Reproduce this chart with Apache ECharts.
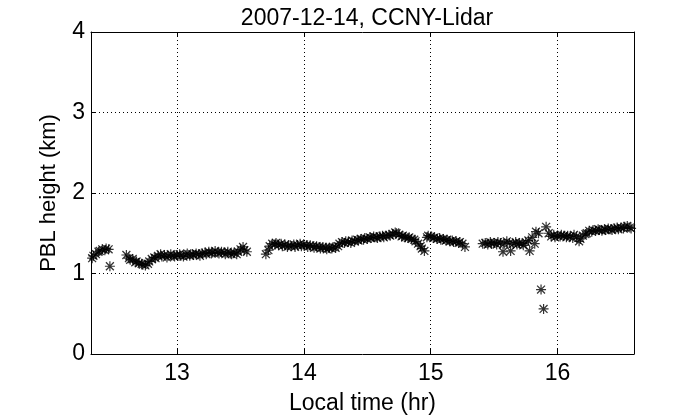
<!DOCTYPE html>
<html><head><meta charset="utf-8">
<script src="https://cdn.jsdelivr.net/npm/echarts@6/dist/echarts.min.js"></script>
<style>html,body{margin:0;padding:0;background:#fff}#c{width:700px;height:420px}</style>
</head><body><div id="c"></div>
<script>
const titleText = '2007-12-14, CCNY-Lidar';
const xName = 'Local time (hr)';
const yName = 'PBL height (km)';
const xTicks = [13, 14, 15, 16];
const yTicks = [0, 1, 2, 3, 4];
const xRange = [12.321, 16.603];
const yRange = [0, 4];

const times = [
12.33,12.34,12.36,12.38,12.39,12.41,12.43,12.44,12.46,12.47,
12.60,12.62,12.63,12.65,12.67,12.68,12.70,12.72,12.73,12.75,12.77,12.78,12.80,12.82,12.83,12.85,12.87,12.88,12.90,12.92,12.93,12.95,12.97,12.98,
13.00,13.02,13.03,13.05,13.07,13.08,13.10,13.12,13.13,13.15,13.17,13.18,13.20,13.22,13.23,13.25,13.27,13.28,13.30,13.32,13.33,13.35,13.37,13.38,13.40,13.42,13.43,13.45,13.47,13.48,13.50,13.52,13.53,13.55,
13.70,13.72,13.73,13.75,13.77,13.78,13.80,13.82,13.83,13.85,13.87,13.88,13.90,13.92,13.93,13.95,13.97,13.98,
14.00,14.02,14.03,14.05,14.07,14.08,14.10,14.12,14.13,14.15,14.17,14.18,14.20,14.22,14.23,14.25,14.27,14.28,14.30,14.32,14.33,14.35,14.37,14.38,14.40,14.42,14.43,14.45,14.47,14.48,14.50,14.52,14.53,14.55,14.57,14.58,14.60,14.62,14.63,14.65,14.67,14.68,14.70,14.72,14.73,14.75,14.77,14.78,14.80,14.82,14.83,14.85,14.87,14.88,14.90,14.92,14.93,14.95,14.97,14.98,
15.00,15.02,15.03,15.05,15.07,15.08,15.10,15.12,15.13,15.15,15.17,15.18,15.20,15.22,15.23,15.25,15.27,
15.41,15.43,15.45,15.47,15.48,15.50,15.52,15.53,15.55,15.57,15.58,15.60,15.62,15.63,15.65,15.67,15.68,15.70,15.72,15.73,15.75,15.77,15.78,15.80,15.82,15.83,15.85,15.87,15.89,15.91,15.93,15.95,15.97,15.98,
16.00,16.02,16.03,16.05,16.07,16.08,16.10,16.12,16.13,16.15,16.17,16.18,16.20,16.22,16.23,16.25,16.27,16.28,16.30,16.32,16.33,16.35,16.37,16.38,16.40,16.42,16.43,16.45,16.47,16.48,16.50,16.52,16.53,16.55,16.57,16.58
];
const heights = [
1.19,1.22,1.24,1.27,1.28,1.30,1.29,1.31,1.30,1.09,
1.23,1.19,1.17,1.18,1.14,1.15,1.13,1.12,1.11,1.10,1.12,1.15,1.18,1.20,1.19,1.22,1.24,1.21,1.23,1.20,1.22,1.24,1.22,1.21,
1.23,1.24,1.22,1.21,1.23,1.25,1.22,1.24,1.23,1.25,1.24,1.22,1.25,1.26,1.24,1.27,1.25,1.26,1.28,1.26,1.25,1.27,1.26,1.24,1.27,1.25,1.24,1.26,1.24,1.27,1.30,1.33,1.29,1.27,
1.24,1.29,1.34,1.37,1.36,1.38,1.35,1.37,1.34,1.36,1.33,1.35,1.34,1.36,1.33,1.35,1.37,1.34,
1.36,1.35,1.33,1.35,1.34,1.32,1.34,1.33,1.31,1.33,1.32,1.30,1.32,1.31,1.33,1.32,1.34,1.37,1.39,1.38,1.40,1.39,1.38,1.41,1.40,1.42,1.41,1.43,1.42,1.44,1.43,1.45,1.44,1.46,1.45,1.44,1.46,1.47,1.45,1.47,1.48,1.47,1.49,1.51,1.50,1.48,1.46,1.47,1.45,1.44,1.45,1.43,1.42,1.40,1.37,1.34,1.31,1.28,1.45,1.47,
1.46,1.44,1.45,1.43,1.44,1.42,1.43,1.41,1.42,1.40,1.41,1.39,1.40,1.38,1.39,1.37,1.33,
1.37,1.38,1.36,1.39,1.37,1.38,1.36,1.39,1.38,1.27,1.37,1.40,1.38,1.28,1.37,1.39,1.36,1.38,1.37,1.35,1.39,1.41,1.28,1.45,1.37,1.52,1.50,0.80,0.56,1.58,1.50,1.46,1.48,1.45,
1.47,1.46,1.48,1.47,1.45,1.47,1.46,1.44,1.48,1.46,1.40,1.43,1.47,1.49,1.50,1.53,1.52,1.54,1.53,1.55,1.54,1.53,1.55,1.54,1.56,1.55,1.54,1.56,1.57,1.55,1.57,1.56,1.58,1.59,1.57,1.56
];

const FONT = 'Liberation Sans, Arial, sans-serif';
const asterisk = 'path://M4.4 0H5.6V10H4.4Z M0 4.4H10V5.6H0Z M0.6 1.5L1.5 0.6L9.4 8.5L8.5 9.4Z M8.5 0.6L9.4 1.5L1.5 9.4L0.6 8.5Z';

const chart = echarts.init(document.getElementById('c'), null, {renderer: 'canvas'});
const dotted = {color: '#000', width: 1, type: [1, 3]};
const axisLine = {show: true, onZero: false, lineStyle: {color: '#000', width: 1}};
chart.setOption({
  animation: false,
  backgroundColor: '#fff',
  title: {
    text: titleText, left: 362, top: 2, textAlign: 'center',
    textStyle: {fontFamily: FONT, fontSize: 23, fontWeight: 'normal', color: '#000'}
  },
  grid: {left: 91, right: 66, top: 32, bottom: 54, show: false},
  xAxis: [{
    type: 'value', position: 'bottom', min: xRange[0], max: xRange[1],
    axisLine: axisLine,
    axisTick: {show: true, inside: true, length: 5, customValues: xTicks, lineStyle: {color: '#000'}},
    axisLabel: {customValues: xTicks, color: '#000', fontFamily: FONT, fontSize: 23, margin: 8},
    splitLine: {show: true, lineStyle: dotted},
    name: xName, nameLocation: 'middle', nameGap: 38,
    nameTextStyle: {fontFamily: FONT, fontSize: 23, color: '#000'}
  }, {
    type: 'value', position: 'top', min: xRange[0], max: xRange[1],
    axisLine: axisLine,
    axisTick: {show: true, inside: true, length: 5, customValues: xTicks, lineStyle: {color: '#000'}},
    axisLabel: {show: false}, splitLine: {show: false}
  }],
  yAxis: [{
    type: 'value', position: 'left', min: yRange[0], max: yRange[1], interval: 1,
    axisLine: axisLine,
    axisTick: {show: true, inside: true, length: 5, lineStyle: {color: '#000'}},
    axisLabel: {color: '#000', fontFamily: FONT, fontSize: 23, margin: 6},
    splitLine: {show: true, lineStyle: dotted},
    name: yName, nameLocation: 'middle', nameGap: 31, nameRotate: 90,
    nameTextStyle: {fontFamily: FONT, fontSize: 22, color: '#000'}
  }, {
    type: 'value', position: 'right', min: yRange[0], max: yRange[1], interval: 1,
    axisLine: axisLine,
    axisTick: {show: true, inside: true, length: 5, lineStyle: {color: '#000'}},
    axisLabel: {show: false}, splitLine: {show: false}
  }],
  series: [{
    type: 'scatter', xAxisIndex: 0, yAxisIndex: 0,
    symbol: asterisk, symbolSize: 10,
    itemStyle: {color: '#000'},
    data: times.map((t, i) => [t, heights[i]]),
    silent: true
  }]
});
</script></body></html>
